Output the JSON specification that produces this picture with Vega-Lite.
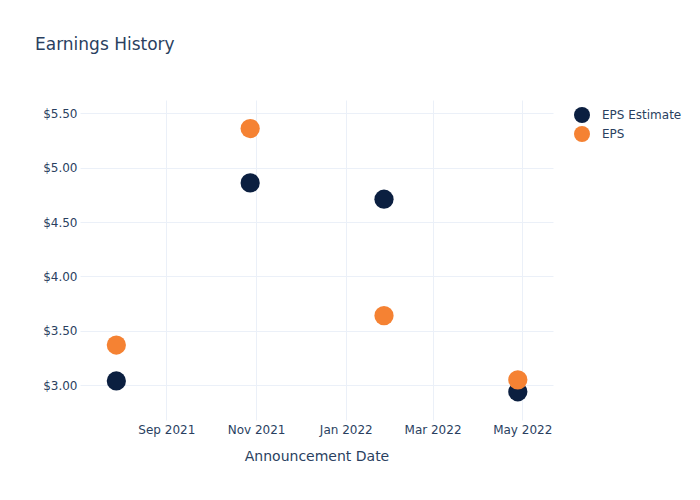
{
  "$schema": "https://vega.github.io/schema/vega-lite/v6.json",
  "width": 473,
  "height": 320,
  "autosize": {"type": "none"},
  "padding": {"left": 80, "top": 100, "right": 147, "bottom": 80},
  "background": "white",
  "title": {
    "text": "Earnings History",
    "anchor": "start",
    "frame": "group",
    "dx": -45,
    "offset": 46,
    "font": "DejaVu Sans",
    "fontSize": 17,
    "fontWeight": "normal",
    "color": "#2a3f5f"
  },
  "config": {
    "view": {"stroke": null},
    "font": "DejaVu Sans"
  },
  "data": {
    "values": [
      {"date": "2021-07-29", "series": "EPS Estimate", "value": 3.04},
      {"date": "2021-10-28", "series": "EPS Estimate", "value": 4.86},
      {"date": "2022-01-27", "series": "EPS Estimate", "value": 4.71},
      {"date": "2022-04-28", "series": "EPS Estimate", "value": 2.94},
      {"date": "2021-07-29", "series": "EPS", "value": 3.37},
      {"date": "2021-10-28", "series": "EPS", "value": 5.36},
      {"date": "2022-01-27", "series": "EPS", "value": 3.64},
      {"date": "2022-04-28", "series": "EPS", "value": 3.05}
    ]
  },
  "mark": {"type": "point", "shape": "circle", "filled": true, "opacity": 1, "size": 370},
  "encoding": {
    "x": {
      "field": "date",
      "type": "temporal",
      "title": "Announcement Date",
      "scale": {
        "type": "utc",
        "domain": [
          {"year": 2021, "month": "jul", "date": 4, "hours": 7, "utc": true},
          {"year": 2022, "month": "may", "date": 21, "hours": 22, "utc": true}
        ]
      },
      "axis": {
        "values": [
          {"year": 2021, "month": "sep", "date": 1, "utc": true},
          {"year": 2021, "month": "nov", "date": 1, "utc": true},
          {"year": 2022, "month": "jan", "date": 1, "utc": true},
          {"year": 2022, "month": "mar", "date": 1, "utc": true},
          {"year": 2022, "month": "may", "date": 1, "utc": true}
        ],
        "labelExpr": "utcFormat(datum.value, '%b %Y')",
        "domain": false,
        "ticks": false,
        "grid": true,
        "gridColor": "#EBF0F8",
        "gridWidth": 1,
        "labelFont": "DejaVu Sans",
        "labelFontSize": 12,
        "labelColor": "#2a3f5f",
        "labelPadding": 4,
        "labelFlush": false,
        "titleFont": "DejaVu Sans",
        "titleFontSize": 14,
        "titleFontWeight": "normal",
        "titleColor": "#2a3f5f",
        "titlePadding": 14
      }
    },
    "y": {
      "field": "value",
      "type": "quantitative",
      "title": null,
      "scale": {"domain": [2.681, 5.622], "zero": false, "nice": false},
      "axis": {
        "values": [3.0, 3.5, 4.0, 4.5, 5.0, 5.5],
        "format": "$.2f",
        "domain": false,
        "ticks": false,
        "grid": true,
        "gridColor": "#EBF0F8",
        "gridWidth": 1,
        "labelFont": "DejaVu Sans",
        "labelFontSize": 12,
        "labelColor": "#2a3f5f",
        "labelPadding": 3,
        "labelFlush": false
      }
    },
    "color": {
      "field": "series",
      "type": "nominal",
      "scale": {"domain": ["EPS Estimate", "EPS"], "range": ["#0b1f40", "#f58233"]},
      "legend": {
        "title": null,
        "orient": "none",
        "legendX": 494,
        "legendY": 7,
        "padding": 0,
        "symbolType": "circle",
        "symbolSize": 256,
        "symbolStrokeWidth": 0,
        "symbolOpacity": 1,
        "rowPadding": 3,
        "labelOffset": 12,
        "labelFont": "DejaVu Sans",
        "labelFontSize": 12,
        "labelColor": "#2a3f5f"
      }
    },
    "order": {"field": "series", "sort": "descending"}
  }
}
